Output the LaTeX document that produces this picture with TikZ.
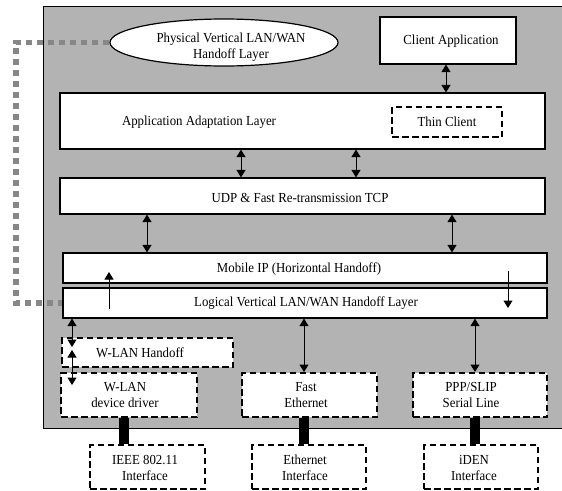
\documentclass[tikz,border=0pt]{standalone}
\usepackage{fontspec}
\setmainfont[FakeStretch=0.93]{Liberation Serif}
\usetikzlibrary{arrows.meta,shapes.geometric}
\definecolor{panelgray}{RGB}{179,179,179}
\definecolor{dotgray}{RGB}{135,135,135}
\newcommand\fs{\fontsize{13.8}{16}\selectfont}
\begin{document}
\begin{tikzpicture}[x=1pt,y=-1pt,
  box/.style={draw, fill=white, line width=1.2pt, inner sep=0pt},
  dbox/.style={draw, fill=white, line width=2pt, dash pattern=on 6.5pt off 3.5pt, inner sep=0pt},
  lbl/.style={font=\fs, align=center, inner sep=0pt},
  arr/.style={line width=1pt, {Triangle[length=7.5pt,width=9pt]}-{Triangle[length=7.5pt,width=9pt]}},
  sarr/.style={line width=1pt, -{Triangle[length=7.5pt,width=9pt]}},
  bar/.style={line width=10pt},
  gdash/.style={draw=dotgray, line width=5.5pt, dash pattern=on 6pt off 5pt}]
\useasboundingbox (0,0) rectangle (562,490);
% panel
\node[draw, fill=panelgray, line width=0.9pt, minimum width=532pt, minimum height=422pt, inner sep=0pt] (panel) at (309,217) {};
% boxes
\node[box, ellipse, minimum width=228pt, minimum height=47pt] (ell) at (224,42.5) {};
\node[box, minimum width=136pt, minimum height=47pt] (capp) at (448,40.5) {};
\node[box, minimum width=485pt, minimum height=56pt] (aal) at (302.5,121) {};
\node[dbox, minimum width=110pt, minimum height=30pt] (thin) at (447,122) {};
\node[box, minimum width=485pt, minimum height=36pt] (udp) at (302.5,196) {};
\node[box, minimum width=484pt, minimum height=30pt] (mip) at (305,268) {};
\node[box, minimum width=484pt, minimum height=30pt] (lvl) at (305,303) {};
\node[dbox, minimum width=171pt, minimum height=29pt] (wh) at (147.5,352.5) {};
\node[dbox, minimum width=136pt, minimum height=44pt] (wdrv) at (129,395) {};
\node[dbox, minimum width=135pt, minimum height=44pt] (feth) at (309.5,395) {};
\node[dbox, minimum width=134pt, minimum height=44pt] (ppp) at (480,395) {};
\node[dbox, minimum width=115pt, minimum height=44pt] (ieee) at (147.5,467) {};
\node[dbox, minimum width=114pt, minimum height=44pt] (eth) at (309,467) {};
\node[dbox, minimum width=114pt, minimum height=44pt] (iden) at (481,467) {};
% texts
\node[lbl] (tell) at (231,47) {Physical Vertical LAN/WAN\\Handoff Layer};
\node[lbl] (tcapp) at (451,41) {Client Application};
\node[lbl] (taal) at (199,122) {Application Adaptation Layer};
\node[lbl] (tthin) at (447,122) {Thin Client};
\node[lbl] (tudp) at (300,198) {UDP \& Fast Re-transmission TCP};
\node[lbl] (tmip) at (299,269) {Mobile IP (Horizontal Handoff)};
\node[lbl] (tlvl) at (306,303) {Logical Vertical LAN/WAN Handoff Layer};
\node[lbl] (twh) at (140,353) {W-LAN Handoff};
\node[lbl] (twdrv) at (125,395) {W-LAN\\device driver};
\node[lbl] (tfeth) at (306,395) {Fast\\Ethernet};
\node[lbl] (tppp) at (471,395) {PPP/SLIP\\Serial Line};
\node[lbl] (tieee) at (145,468) {IEEE 802.11\\Interface};
\node[lbl] (teth) at (305,468) {Ethernet\\Interface};
\node[lbl] (tiden) at (474,468) {iDEN\\Interface};
% helper x positions
\coordinate (xa) at (446,0);
\coordinate (xb) at (241,0);
\coordinate (xc) at (356,0);
\coordinate (xd) at (147,0);
\coordinate (xe) at (452,0);
\coordinate (xf) at (304,0);
\coordinate (xg) at (475,0);
\coordinate (xh) at (124,0);
\coordinate (xl) at (16,0);
\coordinate (u1) at (109,309);
\coordinate (u2) at (109,272);
\coordinate (d1) at (508,271);
\coordinate (d2) at (508,308);
\coordinate (w1) at (72,347);
\coordinate (w2) at (72,350);
\coordinate (w3) at (72,385);
% arrows
\draw[arr] (capp.south -| xa) -- (aal.north -| xa);
\draw[arr] (aal.south -| xb) -- (udp.north -| xb);
\draw[arr] (aal.south -| xc) -- (udp.north -| xc);
\draw[arr] (udp.south -| xd) -- (mip.north -| xd);
\draw[arr] (udp.south -| xe) -- (mip.north -| xe);
\draw[sarr] (u1) -- (u2);
\draw[sarr] (d1) -- (d2);
\draw[arr] (lvl.south -| xf) -- (feth.north -| xf);
\draw[arr] (lvl.south -| xg) -- (ppp.north -| xg);
\draw[arr] (lvl.south -| w1) -- (w1);
\draw[arr] (w2) -- (w3);
% bars
\draw[bar] (wdrv.south -| xh) -- (ieee.north -| xh);
\draw[bar] (feth.south -| xf) -- (eth.north -| xf);
\draw[bar] (ppp.south -| xg) -- (iden.north -| xg);
% grey dotted connector
\draw[gdash] (ell.west) -- (ell.west -| xl) |- (lvl.west);
\end{tikzpicture}
\end{document}
